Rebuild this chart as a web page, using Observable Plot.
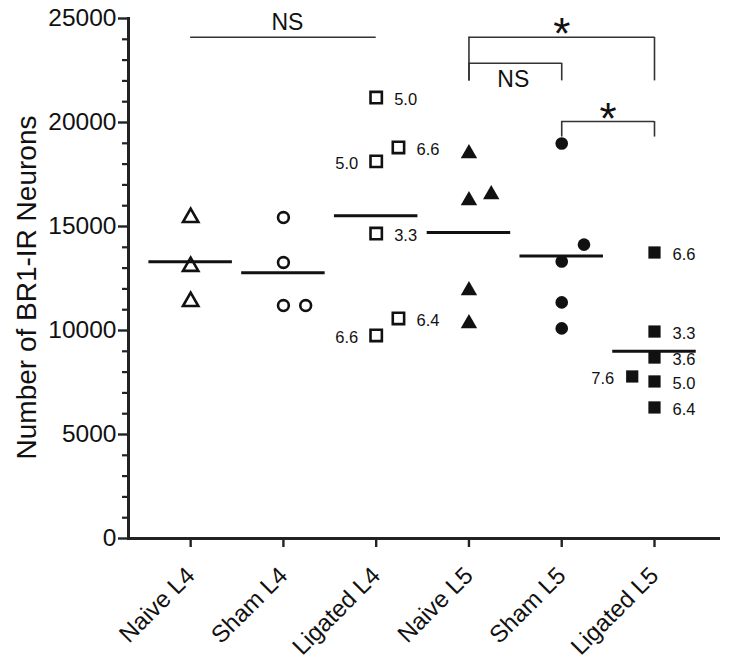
<!DOCTYPE html>
<html><head><meta charset="utf-8">
<script src="https://cdn.jsdelivr.net/npm/d3@7"></script>
<script src="https://cdn.jsdelivr.net/npm/@observablehq/plot@0.6"></script>
<style>
html,body{margin:0;padding:0;background:#fff;}
svg{display:block;}
</style>
</head><body><div id="chart"></div>
<script>
// ---- data ----
const categories = ["Naive L4", "Sham L4", "Ligated L4", "Naive L5", "Sham L5", "Ligated L5"];
const naiveL4   = [15430, 13080, 11390];
const shamL4    = [15430, 13270, 11200, 11200];
const ligatedL4 = [21200, 18130, 18800, 14660, 10580, 9760];
const naiveL5   = [18510, 16250, 16540, 11920, 10340];
const shamL5    = [18990, 14130, 13320, 11350, 10100];
const ligatedL5 = [13750, 9950, 8700, 7790, 7550, 6300];
// scatter column of each replicate (0 = centre, 1 = right, -1 = left)
const naiveL4Cols   = [0, 0, 0];
const shamL4Cols    = [0, 0, 0, 1];
const ligatedL4Cols = [0, 0, 1, 0, 1, 0];
const naiveL5Cols   = [0, 0, 1, 0, 0];
const shamL5Cols    = [0, 1, 0, 0, 0];
const ligatedL5Cols = [0, 0, 0, -1, 0, 0];
// annotation numbers beside the ligated animals
const ligatedL4Labels = ["5.0", "5.0", "6.6", "3.3", "6.4", "6.6"];
const ligatedL4Sides  = ["right", "left", "right", "right", "right", "left"];
const ligatedL5Labels = ["6.6", "3.3", "3.6", "7.6", "5.0", "6.4"];
const ligatedL5Sides  = ["right", "right", "right", "left", "right", "right"];
const yMajorTicks = [0, 5000, 10000, 15000, 20000, 25000];
const yTitle = "Number of BR1-IR Neurons";
// significance comparisons (level = bracket height, legEnd = bottom of legs)
const comparisons = [
  {from: "Naive L4", to: "Ligated L4", level: 24100, legEnd: null,  text: "NS", pos: "above"},
  {from: "Naive L5", to: "Ligated L5", level: 24100, legEnd: 22000, text: "*",  pos: "above"},
  {from: "Naive L5", to: "Sham L5",    level: 22850, legEnd: 22000, text: "NS", pos: "below"},
  {from: "Sham L5",  to: "Ligated L5", level: 20050, legEnd: 19300, text: "*",  pos: "above"}
];

// ---- build table ----
const groupValues = [naiveL4, shamL4, ligatedL4, naiveL5, shamL5, ligatedL5];
const groupCols = [naiveL4Cols, shamL4Cols, ligatedL4Cols, naiveL5Cols, shamL5Cols, ligatedL5Cols];
const groupLabels = {2: ligatedL4Labels, 5: ligatedL5Labels};
const groupSides = {2: ligatedL4Sides, 5: ligatedL5Sides};
const points = [];
groupValues.forEach((vals, g) => vals.forEach((v, k) => points.push({
  g, cat: categories[g], v, col: groupCols[g][k],
  label: groupLabels[g] ? groupLabels[g][k] : null,
  side: groupSides[g] ? groupSides[g][k] : null
})));
const means = groupValues.map((vals, g) => ({g, mean: d3.mean(vals)}));
const idx = c => categories.indexOf(c);
const mid = d => (idx(d.from) + idx(d.to)) / 2;
const legs = [];
comparisons.forEach(c => { if (c.legEnd != null) { legs.push({x: idx(c.from), y1: c.level, y2: c.legEnd}); legs.push({x: idx(c.to), y1: c.level, y2: c.legEnd}); } });

const COL = 0.24;
const xOf = d => d.g + d.col * COL;
const styles = [
  {symbol: "triangle", open: true,  r: 5.7},
  {symbol: "circle",   open: true,  r: 5.4},
  {symbol: "square",   open: true,  r: 6.4},
  {symbol: "triangle", open: false, r: 6.1},
  {symbol: "circle",   open: false, r: 6.3},
  {symbol: "square",   open: false, r: 6.9}
];
const FONT = "'Liberation Sans', Arial, sans-serif";

const dotMarks = styles.map((s, g) => Plot.dot(points.filter(d => d.g === g), {
  x: xOf, y: "v", symbol: () => s.symbol, r: s.r,
  fill: s.open ? "none" : "#111", stroke: s.open ? "#111" : "none", strokeWidth: 2.6
}));

const minorTicks = d3.range(0, 25001, 1000).filter(v => v % 5000 !== 0);

const chart = Plot.plot({
  width: 729, height: 662,
  marginLeft: 128, marginRight: 11, marginTop: 18, marginBottom: 124,
  style: {fontFamily: FONT, color: "#111", background: "#fff", overflow: "visible"},
  x: {type: "linear", domain: [-0.67, 5.69]},
  y: {domain: [0, 25000]},
  symbol: {type: "identity"},
  marks: [
    Plot.axisY({ticks: minorTicks, tickSize: 6, tickFormat: () => "", strokeWidth: 2.2, stroke: "#222"}),
    Plot.axisY({ticks: yMajorTicks, tickSize: 10, tickPadding: 2, tickFormat: d3.format("d"), fontSize: 24.5, strokeWidth: 2.4, stroke: "#222", label: null}),
    Plot.axisX({ticks: d3.range(categories.length), tickFormat: i => categories[i], tickRotate: -45, tickSize: 9, tickPadding: 24, fontSize: 24, strokeWidth: 2.4, stroke: "#222", label: null}),
    Plot.frame({anchor: "left", strokeWidth: 3, stroke: "#222"}),
    Plot.frame({anchor: "bottom", strokeWidth: 3, stroke: "#222"}),
    Plot.text([yTitle], {frameAnchor: "left", textAnchor: "middle", rotate: -90, dx: -101, dy: 9, fontSize: 28, fill: "#111"}),
    // comparisons
    Plot.ruleY(comparisons, {y: "level", x1: d => idx(d.from), x2: d => idx(d.to), stroke: "#333", strokeWidth: 1.6}),
    Plot.ruleX(legs, {x: "x", y1: "y1", y2: "y2", stroke: "#333", strokeWidth: 1.6}),
    Plot.text(comparisons.filter(d => d.text === "NS" && d.pos === "above"), {x: mid, y: "level", text: "text", fontSize: 23, lineAnchor: "middle", dy: -15, dx: 4, fill: "#111"}),
    Plot.text(comparisons.filter(d => d.text === "NS" && d.pos === "below"), {x: mid, y: "level", text: "text", fontSize: 23, lineAnchor: "middle", dy: 16, dx: -2, fill: "#111"}),
    Plot.text(comparisons.filter(d => d.text === "*"), {x: mid, y: "level", text: "text", fontSize: 44, lineAnchor: "middle", dy: -2, fill: "#111"}),
    ...dotMarks,
    Plot.ruleY(means, {y: "mean", x1: d => d.g - 0.45, x2: d => d.g + 0.45, stroke: "#111", strokeWidth: 3}),
    Plot.text(points.filter(d => d.label && d.side === "right"), {x: xOf, y: "v", text: "label", textAnchor: "start", dx: 18, dy: 2, fontSize: 16.5, fill: "#111"}),
    Plot.text(points.filter(d => d.label && d.side === "left"), {x: xOf, y: "v", text: "label", textAnchor: "end", dx: -18, dy: 2, fontSize: 16.5, fill: "#111"})
  ]
});

document.getElementById("chart").appendChild(chart);
</script>
</body></html>
